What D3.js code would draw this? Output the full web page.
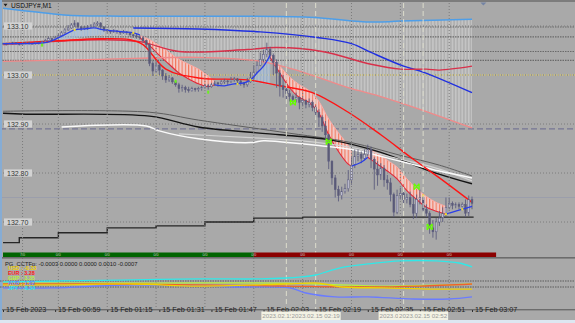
<!DOCTYPE html>
<html>
<head>
<meta charset="utf-8">
<script src="https://cdn.jsdelivr.net/npm/d3@7"></script>
<style>
body { margin: 0; background: #a9a9a9; overflow: hidden; }
svg { display: block; }
text { font-family: "Liberation Sans", Arial, sans-serif; }
</style>
</head>
<body>
<script>
const W = 575, H = 323;

// USDJPY#, M1 - one bar per minute, 15 Feb 2023 00:43 .. 03:07
const firstOpen = 133.064;
const closes = [
  133.064,133.062,133.064,133.066,133.064,133.062,133.064,133.066,133.064,133.064,
  133.066,133.064,133.068,133.070,133.074,133.072,133.076,133.080,133.086,133.092,
  133.096,133.102,133.106,133.098,133.094,133.096,133.098,133.100,133.104,133.106,
  133.098,133.092,133.090,133.088,133.090,133.088,133.086,133.088,133.086,133.082,
  133.080,133.078,133.076,133.070,133.062,133.024,133.008,133.020,133.010,132.998,
  132.990,132.994,132.986,132.980,132.972,132.974,132.970,132.968,132.972,132.970,
  132.972,132.974,132.978,132.976,132.980,132.984,132.982,132.986,132.988,132.986,
  132.990,132.992,132.988,132.984,132.980,132.986,132.994,133.006,133.020,133.032,
  133.042,133.052,133.040,133.026,133.004,132.978,132.970,132.962,132.956,132.950,
  132.954,132.944,132.948,132.940,132.944,132.934,132.924,132.914,132.896,132.878,
  132.824,132.790,132.766,132.754,132.762,132.768,132.786,132.816,132.834,132.838,
  132.830,132.838,132.848,132.828,132.808,132.796,132.810,132.786,132.780,132.756,
  132.720,132.754,132.758,132.746,132.750,132.736,132.718,132.746,132.750,132.726,
  132.718,132.688,132.680,132.700,132.708,132.718,132.730,132.738,132.734,132.736,
  132.732,132.736,132.718,132.746,132.738
];
const highs = [
  133.066,133.066,133.066,133.068,133.066,133.066,133.066,133.068,133.068,133.066,
  133.068,133.068,133.070,133.074,133.078,133.076,133.080,133.084,133.090,133.096,
  133.102,133.106,133.112,133.108,133.100,133.100,133.102,133.104,133.108,133.110,
  133.108,133.100,133.094,133.092,133.094,133.092,133.090,133.092,133.090,133.088,
  133.086,133.084,133.082,133.080,133.072,133.064,133.028,133.028,133.024,133.012,
  133.004,133.000,132.996,132.990,132.984,132.980,132.978,132.976,132.976,132.974,
  132.976,132.978,132.982,132.982,132.984,132.988,132.986,132.990,132.992,132.990,
  132.996,132.996,132.994,132.990,132.986,132.994,133.006,133.020,133.028,133.046,
  133.052,133.066,133.058,133.044,133.032,133.010,133.000,132.976,132.970,132.960,
  132.964,132.956,132.954,132.950,132.952,132.948,132.938,132.930,132.918,132.906,
  132.880,132.826,132.796,132.774,132.772,132.778,132.806,132.832,132.848,132.848,
  132.844,132.848,132.858,132.854,132.832,132.824,132.820,132.816,132.796,132.790,
  132.760,132.766,132.770,132.762,132.758,132.762,132.752,132.756,132.766,132.754,
  132.736,132.722,132.704,132.708,132.722,132.730,132.750,132.750,132.742,132.740,
  132.740,132.740,132.746,132.754,132.752
];
const lows = [
  133.062,133.060,133.062,133.062,133.062,133.060,133.062,133.062,133.062,133.062,
  133.062,133.062,133.064,133.066,133.068,133.068,133.070,133.074,133.078,133.084,
  133.090,133.094,133.098,133.094,133.090,133.092,133.092,133.096,133.098,133.100,
  133.094,133.088,133.086,133.084,133.086,133.084,133.082,133.084,133.082,133.078,
  133.076,133.074,133.072,133.066,133.056,133.018,132.998,133.006,133.000,132.990,
  132.984,132.986,132.982,132.976,132.964,132.966,132.964,132.964,132.966,132.966,
  132.966,132.968,132.972,132.970,132.974,132.978,132.976,132.980,132.982,132.980,
  132.984,132.986,132.982,132.978,132.974,132.976,132.984,132.990,133.004,133.018,
  133.026,133.036,133.032,133.000,132.974,132.956,132.954,132.950,132.946,132.940,
  132.944,132.930,132.936,132.932,132.934,132.926,132.914,132.894,132.884,132.868,
  132.808,132.776,132.750,132.742,132.746,132.758,132.762,132.776,132.810,132.824,
  132.820,132.826,132.834,132.810,132.766,132.774,132.786,132.772,132.766,132.742,
  132.710,132.716,132.746,132.736,132.738,132.730,132.706,132.708,132.736,132.720,
  132.710,132.676,132.668,132.664,132.692,132.700,132.710,132.726,132.726,132.728,
  132.726,132.730,132.710,132.712,132.726
];

// moving averages / envelopes: [bar, price]
const envTop   = [[0,133.136],[11,133.128],[20,133.122],[36,133.120],[60,133.120],[94,133.118],[113,133.108],[122,133.110],[144,133.114]];
const envLow   = [[0,133.028],[30,133.032],[60,133.036],[79,133.028],[91,133.008],[106,132.974],[116,132.956],[128,132.930],[144,132.892]];
const blueMa   = [[40,133.096],[60,133.094],[79,133.088],[97,133.076],[107,133.064],[113,133.046],[123,133.018],[129,133.006],[144,132.964]];
const redSlow  = [[0,133.062],[14,133.068],[30,133.072],[42,133.068],[54,133.048],[75,133.052],[84,133.056],[98,133.048],[113,133.022],[122,133.012],[130,133.012],[134,133.010],[144,133.018]];
const redFast  = [[0,133.064],[17,133.070],[30,133.074],[39,133.072],[43,133.062],[50,133.012],[60,132.994],[75,132.990],[85,132.978],[95,132.964],[106,132.924],[116,132.878],[126,132.828],[134,132.790],[144,132.740]];
const greyMa   = [[0,132.926],[45,132.924],[60,132.908],[85,132.884],[107,132.862],[122,132.836],[134,132.816],[144,132.794]];
const blackMa  = [[0,132.922],[7,132.920],[45,132.916],[60,132.894],[85,132.878],[100,132.868],[116,132.842],[131,132.804],[144,132.778]];
const whiteMa  = [[18,132.894],[44,132.896],[48,132.886],[60,132.870],[76,132.862],[80,132.866],[85,132.864],[97,132.856],[107,132.848],[122,132.824],[134,132.804],[144,132.790]];
const silverMa = [[54,132.880],[76,132.872],[91,132.866],[107,132.852],[122,132.828],[134,132.808],[144,132.784]];

// fast line, rising parts (blue)
const fastUp = [
  [[0,133.064],[13,133.066],[15,133.070],[17,133.076],[20,133.086],[22,133.092],[25,133.094],[28,133.096],[31,133.092],[34,133.090],[37,133.088],[40,133.086],[42,133.082]],
  [[65,132.980],[68,132.978],[71,132.982],[74,132.984],[76,132.990],[78,133.004],[80,133.018],[82,133.040]],
  [[107,132.814],[110,132.822],[112,132.832]],
  [[136,132.716],[139,132.722],[142,132.728],[144,132.732]]
];
// falling parts: hatched band between two lines
const downBars   = [[42,45,48,51,54,57,60,63,65],[82,85,88,91,94,97,100,103,106,107],[112,115,118,121,124,127,130,133,136]];
const downTop    = [[133.080,133.072,133.060,133.046,133.032,133.022,133.012,132.998,132.986],
                    [133.042,133.018,132.996,132.980,132.968,132.946,132.910,132.882,132.856,132.844],
                    [132.848,132.840,132.826,132.812,132.788,132.768,132.752,132.740,132.732]];
const downBottom = [[133.076,133.060,133.040,133.022,133.004,132.992,132.982,132.976,132.980],
                    [133.036,133.004,132.974,132.954,132.944,132.922,132.878,132.844,132.818,132.814],
                    [132.832,132.818,132.804,132.788,132.764,132.746,132.730,132.722,132.716]];
// rising parts: light blue band
const upBars   = [[17,20,22,25,28,31],[76,78,80,82]];
const upTop    = [[133.076,133.086,133.092,133.094,133.096,133.092],[132.990,133.004,133.018,133.040]];
const upBottom = [[133.072,133.074,133.076,133.078,133.080,133.082],[132.986,132.984,132.982,132.980]];

const yellowDots = [[22,133.092],[40,133.086],[72,132.982],[76,132.990],[129,132.754],[136,132.716],[141,132.726]];
const greenDots  = [[12,133.062],[53,132.988],[63,132.966]];
const greenCross = [[89,132.944],[100,132.864],[127,132.772],[131,132.690]];

// daily level line (steps)
const stepBars   = [0,5,17,32,47,62,77,92,144.5];
const stepValues = [132.658,132.668,132.678,132.688,132.692,132.700,132.708,132.710,132.710];

// horizontal levels
const priceLevels = [133.10, 133.00, 132.90, 132.80, 132.70];
const priceLabels = ["133.10", "133.00", "132.90", "132.80", "132.70"];
const pivotLevels = [133.098, 133.078, 133.048, 133.030];
const yellowLevel = 133.000;
const dashedLevel = 132.890;
const bidLevel    = 132.750;

// time axis
const tickBars   = [0, 16, 32, 48, 64, 80, 96, 112, 128, 144];
const tickLabels = ["15 Feb 2023", "15 Feb 00:59", "15 Feb 01:15", "15 Feb 01:31", "15 Feb 01:47",
                    "15 Feb 02:03", "15 Feb 02:19", "15 Feb 02:35", "15 Feb 02:51", "15 Feb 03:07"];
const gridBars    = [6, 17, 32, 47, 62, 77, 92, 107, 122, 137];
const crossBars   = [87, 96, 123, 129];
const crossLabels = ["2023.02.15 02:10", "2023.02.15 02:19", "2023.02.15 02:46", "2023.02.15 02:52"];

// session bar
const sessionFrom   = [0, 77];
const sessionTo     = [77, 151.4];
const sessionColors = ["#006400", "#8b0000"];
const sessionText   = ["7/0", "0/0", "0/0", "0/0", "0/0", "0/0", "0/0", "0/0", "0/0", "0/0"];

// PG_CCTFp sub window
const subHeader = "PG_CCTFp: -0.0003 0.0000 0.0000 0.0010 -0.0007";
const currencies = ["USD : -0.33", "EUR : 3.28", "GBP : 3.35", "AUD : 1.82", "JPY : -8.34"];
const curColors  = ["#f0d000", "#ff1a1a", "#b8f040", "#6a7cff", "#30e8e8"];
const subLevels  = [1, -1];
const usdLine = [[0,-0.3],[17,-0.3],[40,0],[60,-0.7],[87,0],[97,0.3],[104,-1.0],[117,-1.3],[133,-1.7],[144,-1.7]];
const eurLine = [[0,0],[30,0],[60,-0.3],[87,-0.7],[112,-1.0],[128,-0.7],[144,0]];
const gbpLine = [[0,0.3],[45,0.3],[87,0.3],[117,-0.7],[144,0]];
const audLine = [[0,-1.3],[15,-1.3],[40,-0.3],[71,-1.0],[88,-1.3],[93,-3.0],[102,-4.3],[112,-4.3],[126,-5.0],[137,-5.0],[144,-4.3]];
const jpyLine = [[0,0.7],[17,1.0],[36,1.3],[60,1.7],[79,1.7],[87,2.0],[91,2.3],[96,3.0],[100,4.3],[105,5.7],[112,6.7],[122,7.7],[133,7.7],[140,7.0],[144,5.7]];

// ---------------------------------------------------------------
const svg = d3.select("body").append("svg").attr("width", W).attr("height", H);

const x  = d3.scaleLinear().domain([0, 144]).range([3, 472]);
const y  = d3.scaleLinear().domain([132.70, 133.10]).range([222, 26]);
const ys = d3.scaleLinear().domain([-1, 1]).range([287, 281]);
const dx = x(1) - x(0);

const line  = d3.line().x(d => x(d[0])).y(d => y(d[1])).curve(d3.curveCatmullRom);
const lineS = d3.line().x(d => x(d[0])).y(d => ys(d[1])).curve(d3.curveCatmullRom);

const defs = svg.append("defs");
defs.append("clipPath").attr("id", "mainClip").append("rect").attr("x", 0).attr("y", 3).attr("width", W).attr("height", 249);
defs.append("clipPath").attr("id", "subClip").append("rect").attr("x", 0).attr("y", 259).attr("width", W).attr("height", 50);

function stripes(id, bg, fg, lw) {
  const p = defs.append("pattern").attr("id", id).attr("patternUnits", "userSpaceOnUse")
    .attr("x", x(0) - lw / 2).attr("y", 0).attr("width", dx).attr("height", 20);
  p.append("rect").attr("width", dx).attr("height", 20).attr("fill", bg);
  p.append("rect").attr("width", lw).attr("height", 20).attr("fill", fg);
}
stripes("envHatch", "#b0b0b0", "#c5c5c5", 1.5);
stripes("downHatch", "#f2cac8", "#f2785c", 1.1);
stripes("upHatch", "#b6cde6", "#86b2e4", 1.1);

svg.append("rect").attr("width", W).attr("height", H).attr("fill", "#a9a9a9");

const main = svg.append("g").attr("clip-path", "url(#mainClip)");

// envelope fill (vertical stripes)
const envPath = line(envTop) + line(envLow.slice().reverse()).replace(/^M/, "L") + "Z";
main.append("path").attr("d", envPath).attr("fill", "url(#envHatch)");

// horizontal levels
main.selectAll(".grid-h").data(priceLevels).enter().append("line")
  .attr("x1", 0).attr("x2", W).attr("y1", d => y(d)).attr("y2", d => y(d))
  .attr("stroke", "#7c7c7c").attr("stroke-dasharray", "1,2");
main.selectAll(".pivot").data(pivotLevels).enter().append("line")
  .attr("x1", 0).attr("x2", W).attr("y1", d => y(d)).attr("y2", d => y(d))
  .attr("stroke", "#6a6a6a").attr("stroke-width", 1.2).attr("stroke-dasharray", "1.5,1");
main.append("line").attr("x1", 0).attr("x2", W).attr("y1", y(yellowLevel)).attr("y2", y(yellowLevel))
  .attr("stroke", "#e2d060").attr("stroke-dasharray", "1,1");
main.append("line").attr("x1", 0).attr("x2", W).attr("y1", y(dashedLevel)).attr("y2", y(dashedLevel))
  .attr("stroke", "#767694").attr("stroke-width", 1.1).attr("stroke-dasharray", "6,3");
main.append("line").attr("x1", 0).attr("x2", W).attr("y1", y(bidLevel)).attr("y2", y(bidLevel))
  .attr("stroke", "#9b9eab");

// vertical grid + crosshair lines
svg.selectAll(".grid-v").data(gridBars).enter().append("line")
  .attr("x1", d => x(d)).attr("x2", d => x(d)).attr("y1", 3).attr("y2", 309)
  .attr("stroke", "#7c7c7c").attr("stroke-dasharray", "1,2");
svg.selectAll(".cross").data(crossBars).enter().append("line")
  .attr("x1", d => x(d)).attr("x2", d => x(d)).attr("y1", 3).attr("y2", 309)
  .attr("stroke", "#dcdccc").attr("stroke-dasharray", "5,3");

// hatched bands
downBars.forEach((bars, k) => {
  const pts = bars.map((b, i) => [b, downTop[k][i], downBottom[k][i]]);
  main.append("path").datum(pts)
    .attr("d", d3.area().x(d => x(d[0])).y0(d => y(d[2])).y1(d => y(d[1])).curve(d3.curveMonotoneX))
    .attr("fill", "url(#downHatch)");
  main.append("path").datum(pts.map(d => [d[0], d[1]])).attr("d", line)
    .attr("fill", "none").attr("stroke", "#ffaaa4").attr("stroke-width", 1);
  main.append("path").datum(pts.map(d => [d[0], d[2]])).attr("d", line)
    .attr("fill", "none").attr("stroke", "#e0283a").attr("stroke-width", 1.1);
});
upBars.forEach((bars, k) => {
  const pts = bars.map((b, i) => [b, upTop[k][i], upBottom[k][i]]);
  main.append("path").datum(pts)
    .attr("d", d3.area().x(d => x(d[0])).y0(d => y(d[2])).y1(d => y(d[1])).curve(d3.curveMonotoneX))
    .attr("fill", "url(#upHatch)").attr("opacity", 0.55);
});

// stepped daily line
main.append("path").datum(stepBars.map((b, i) => [b, stepValues[i]]))
  .attr("d", d3.line().x(d => x(d[0])).y(d => y(d[1])).curve(d3.curveStepAfter))
  .attr("fill", "none").attr("stroke", "#262626").attr("stroke-width", 1.4);

// slow averages
const maLines = [
  [greyMa, "#5e5e5e", 1],
  [blackMa, "#141414", 1.4],
  [silverMa, "#d2d2d2", 1.2],
  [whiteMa, "#fafafa", 1.5],
  [envLow, "#f08a8a", 1.3],
  [envTop, "#4e9ee8", 1.5],
  [blueMa, "#1f2fe0", 1.4],
  [redSlow, "#d8304a", 1.4],
  [redFast, "#ff1414", 1.4]
];
maLines.forEach(([data, col, sw]) => {
  main.append("path").datum(data).attr("d", line)
    .attr("fill", "none").attr("stroke", col).attr("stroke-width", sw);
});

// candles
const bars = closes.map((c, i) => ({
  i: i, o: i === 0 ? firstOpen : closes[i - 1], c: c, h: highs[i], l: lows[i]
}));
const cg = main.append("g");
cg.selectAll(".wick").data(bars).enter().append("line")
  .attr("x1", d => x(d.i)).attr("x2", d => x(d.i))
  .attr("y1", d => y(Math.max(d.h, d.o, d.c))).attr("y2", d => y(Math.min(d.l, d.o, d.c)))
  .attr("stroke", "#5c5c7e").attr("stroke-width", 0.9);
cg.selectAll(".body").data(bars).enter().append("rect")
  .attr("x", d => x(d.i) - 0.9).attr("width", 1.8)
  .attr("y", d => y(Math.max(d.o, d.c)))
  .attr("height", d => Math.max(0.8, y(Math.min(d.o, d.c)) - y(Math.max(d.o, d.c))))
  .attr("fill", d => d.c >= d.o ? "#c4c4d6" : "#5a5a76")
  .attr("stroke", "#5c5c7e").attr("stroke-width", 0.5);

// fast line rising parts
fastUp.forEach(seg => {
  main.append("path").datum(seg).attr("d", line)
    .attr("fill", "none").attr("stroke", "#2a3ee8").attr("stroke-width", 1.3);
});

// markers
main.selectAll(".ydot").data(yellowDots).enter().append("rect")
  .attr("x", d => x(d[0]) - 1).attr("y", d => y(d[1]) - 1).attr("width", 2).attr("height", 2).attr("fill", "#f4e020");
main.selectAll(".gdot").data(greenDots).enter().append("rect")
  .attr("x", d => x(d[0]) - 1).attr("y", d => y(d[1]) - 1).attr("width", 2).attr("height", 3).attr("fill", "#6cf020");
const gx = main.selectAll(".gx").data(greenCross).enter().append("g")
  .attr("transform", d => `translate(${x(d[0])},${y(d[1])})`);
gx.append("path").attr("d", "M-2.5,-3L2.5,3M2.5,-3L-2.5,3M-2.5,-3V3M2.5,-3V3")
  .attr("stroke", "#66ff00").attr("stroke-width", 1.2).attr("fill", "none");

// session bar
const sess = svg.append("g");
sessionFrom.forEach((f, i) => {
  sess.append("rect").attr("x", x(f)).attr("y", 252.5).attr("width", x(sessionTo[i]) - x(f)).attr("height", 4.5)
    .attr("fill", sessionColors[i]);
});
sess.selectAll("text").data(gridBars).enter().append("text")
  .attr("x", d => x(d)).attr("y", 256.3).attr("text-anchor", "middle")
  .attr("font-size", 3.6).attr("fill", "#c8c8c8").text((d, i) => sessionText[i]);

// frame
svg.append("rect").attr("x", 0).attr("y", 0).attr("width", W).attr("height", 2).attr("fill", "#7c7c7c");
svg.append("rect").attr("x", 0).attr("y", 257).attr("width", W).attr("height", 1.6).attr("fill", "#6c6c6c");
svg.append("rect").attr("x", 0).attr("y", 309).attr("width", W).attr("height", 1.4).attr("fill", "#6c6c6c");
svg.append("rect").attr("x", 0).attr("y", 320).attr("width", W).attr("height", 3).attr("fill", "#dde7f1");
svg.append("rect").attr("x", 0).attr("y", 0).attr("width", 2).attr("height", 320).attr("fill", "#86acd4");
svg.append("path").attr("d", `M${x(147.5) - 3},2.5L${x(147.5) + 3},2.5L${x(147.5)},5.5Z`).attr("fill", "#7484a4");

// title
svg.append("path").attr("d", "M3.5,3.8L7.5,3.8L5.5,6.6Z").attr("fill", "#202020");
svg.append("text").attr("x", 11).attr("y", 8).attr("font-size", 6.6).attr("fill", "#101010").text("USDJPY#,M1");

// price labels
const pl = svg.selectAll(".plabel").data(priceLevels).enter().append("g")
  .attr("transform", d => `translate(4,${y(d)})`);
pl.append("rect").attr("x", 0).attr("y", -3.6).attr("width", 28).attr("height", 7.2).attr("fill", "#d3d3d3");
pl.append("text").attr("x", 3).attr("y", 2.5).attr("font-size", 7).attr("fill", "#353535")
  .text((d, i) => priceLabels[i]);

// sub window
const sub = svg.append("g").attr("clip-path", "url(#subClip)");
sub.selectAll(".slevel").data(subLevels).enter().append("line")
  .attr("x1", 0).attr("x2", W).attr("y1", d => ys(d)).attr("y2", d => ys(d))
  .attr("stroke", "#5c5c5c").attr("stroke-width", 1.1).attr("stroke-dasharray", "1.5,1");
[[audLine, curColors[3]], [gbpLine, curColors[2]], [eurLine, "#f0602c"], [usdLine, curColors[0]], [jpyLine, curColors[4]]]
  .forEach(([data, col]) => {
    sub.append("path").datum(data).attr("d", lineS)
      .attr("fill", "none").attr("stroke", col).attr("stroke-width", 1.3);
  });
svg.append("text").attr("x", 5).attr("y", 265.5).attr("font-size", 5.8).attr("fill", "#1c1c1c").text(subHeader);
svg.selectAll(".cur").data(currencies).enter().append("text")
  .attr("x", 8).attr("y", (d, i) => 270 + i * 5).attr("font-size", 5.4).attr("font-weight", "bold")
  .attr("fill", (d, i) => curColors[i]).text(d => d);

// time axis
const axis = svg.append("g").attr("transform", "translate(0,310)")
  .call(d3.axisBottom(x).tickValues(tickBars).tickSize(2).tickPadding(0)
    .tickFormat((d, i) => tickLabels[i]));
axis.select(".domain").remove();
axis.selectAll(".tick line").attr("stroke", "#303030");
axis.selectAll(".tick text").attr("text-anchor", "start").attr("dx", 2.5).attr("dy", "0")
  .attr("font-family", "Liberation Sans, Arial, sans-serif").attr("font-size", 7.2).attr("fill", "#202020");

// crosshair time boxes
const cb = svg.selectAll(".cbox").data(crossBars).enter().append("g")
  .attr("transform", d => `translate(${x(d)},311.5)`);
cb.append("rect").attr("x", -25).attr("y", 0).attr("width", 50).attr("height", 8.5).attr("fill", "#f3f2e4");
cb.append("text").attr("x", 0).attr("y", 6.6).attr("text-anchor", "middle").attr("font-size", 6.2)
  .attr("fill", "#9a9a9a").text((d, i) => crossLabels[i]);
</script>
</body>
</html>
